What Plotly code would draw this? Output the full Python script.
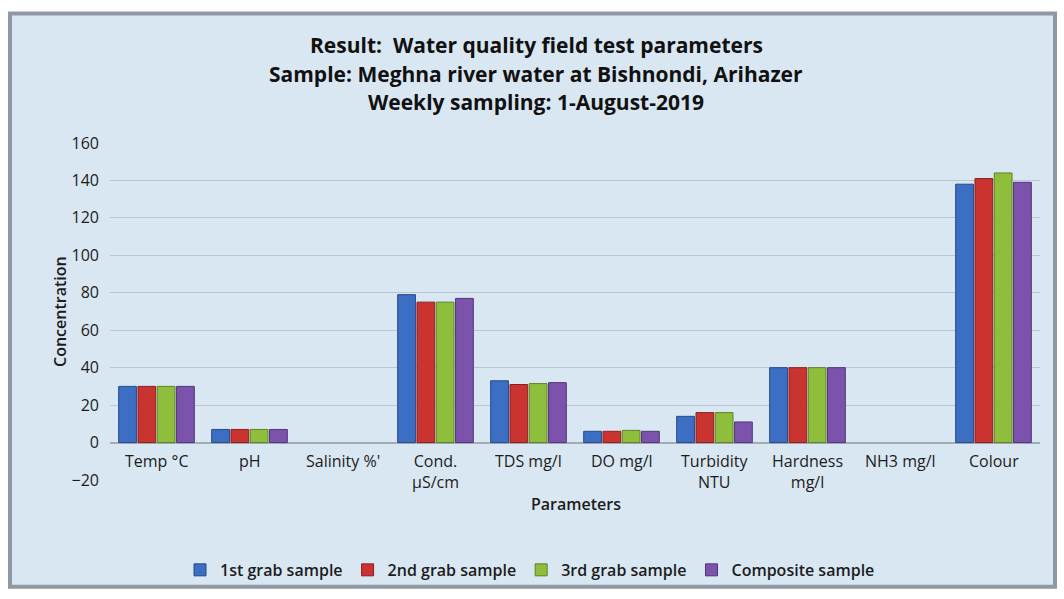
import plotly.graph_objects as go

# Parameters measured in the field
categories = ["Temp °C", "pH", "Salinity %'", "Cond.<br>µS/cm", "TDS mg/l",
              "DO mg/l", "Turbidity<br>NTU", "Hardness<br>mg/l", "NH3 mg/l", "Colour"]

grab1 = [30, 7, 0, 79, 33, 6, 14, 40, 0, 138]
grab2 = [30, 7, 0, 75, 31, 6, 16, 40, 0, 141]
grab3 = [30, 7, 0, 75, 31.5, 6.5, 16, 40, 0, 144]
composite = [30, 7, 0, 77, 32, 6, 11, 40, 0, 139]

series_names = ["1st grab sample", "2nd grab sample", "3rd grab sample", "Composite sample"]
series_values = [grab1, grab2, grab3, composite]
fill_colors = ["#3c6ec4", "#c93431", "#8fbd3c", "#7b53ad"]
edge_colors = ["#27498a", "#8c1f1d", "#5f8226", "#523577"]

y_ticks = [-20, 0, 20, 40, 60, 80, 100, 120, 140, 160]

FONT = "Open Sans"
INK = "#1c1c1c"

fig = go.Figure()
for name, vals, fc, ec in zip(series_names, series_values, fill_colors, edge_colors):
    fig.add_trace(go.Bar(
        x=categories, y=vals, name=name,
        # no outline on empty bars so nothing shows at zero
        marker=dict(color=fc, line=dict(color=ec, width=[1 if v else 0 for v in vals])),
    ))

# Plot-area geometry in pixels (used to place the frame and texts)
L, R, T, B = 110, 24, 143, 115
W, H = 1064, 599
pw, ph = W - L - R, H - T - B

def px_x(p):
    return (p - L) / pw

def px_y(p):
    return (H - B - p) / ph

# Framed, light-blue chart background
fig.add_shape(type="rect", xref="paper", yref="paper", layer="below",
              x0=px_x(10), x1=px_x(1055), y0=px_y(592), y1=px_y(12),
              fillcolor="#d9e7f3", line=dict(color="#8f98a3", width=4))

# Category labels sit just below the zero line
for c in categories:
    fig.add_annotation(x=c, y=0, xref="x", yref="y", text=c, showarrow=False,
                       yanchor="top", yshift=-5,
                       font=dict(family=FONT, size=16, color=INK, weight=500))

titles = ["Result:  Water quality field test parameters",
          "Sample: Meghna river water at Bishnondi, Arihazer",
          "Weekly sampling: 1-August-2019"]
for i, t in enumerate(titles):
    fig.add_annotation(x=px_x(536), y=px_y(44 + 29 * i), xref="paper", yref="paper",
                       text=f"<b>{t}</b>", showarrow=False, xanchor="center", yanchor="middle",
                       font=dict(family=FONT, size=21, color="#111111"))

fig.add_annotation(x=px_x(576), y=px_y(521), xref="paper", yref="paper",
                   text="Parameters", showarrow=False,
                   font=dict(family=FONT, size=16, color=INK, weight=600))
fig.add_annotation(x=px_x(47), y=px_y(314), xref="paper", yref="paper",
                   text="Concentration", showarrow=False, textangle=-90,
                   font=dict(family=FONT, size=16, color=INK, weight=600))

fig.update_layout(
    width=W, height=H,
    margin=dict(l=L, r=R, t=T, b=B, pad=0),
    paper_bgcolor="white", plot_bgcolor="rgba(0,0,0,0)",
    barmode="group", bargap=0.17, bargroupgap=0.08,
    font=dict(family=FONT, size=14, color=INK),
    showlegend=True,
    legend=dict(orientation="h", x=px_x(530), xanchor="center",
                y=px_y(575), yanchor="middle", bgcolor="rgba(0,0,0,0)",
                font=dict(family=FONT, size=16, color=INK, weight=600),
                itemwidth=30, traceorder="normal"),
    xaxis=dict(showticklabels=False, showgrid=False, zeroline=False,
               showline=False, ticks=""),
    yaxis=dict(range=[-20, 160], tickvals=y_ticks, showgrid=True,
               gridcolor="#bcc6cf", gridwidth=1, zeroline=True,
               zerolinecolor="#a3abb3", zerolinewidth=2,
               tickfont=dict(family=FONT, size=16, color=INK, weight=500),
               ticks="", ticklabelstandoff=10),
)

fig.write_html("out.html")
